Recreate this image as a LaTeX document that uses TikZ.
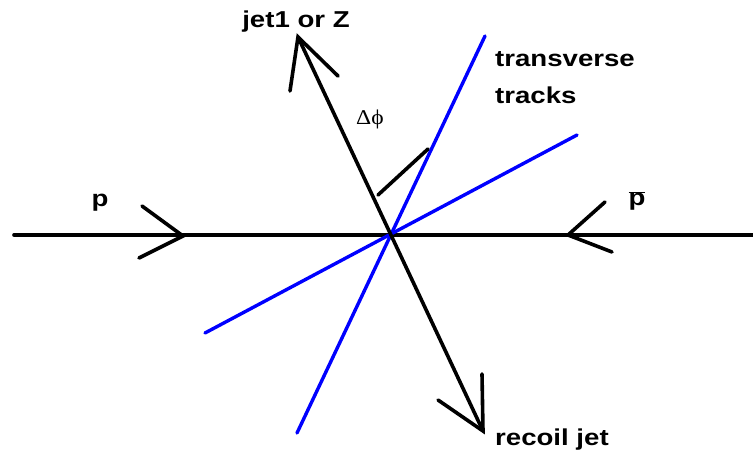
\documentclass[tikz,border=0pt]{standalone}
\usepackage{fontspec}
\setmainfont{Liberation Sans}
\newfontfamily\serifont{Liberation Serif}
\begin{document}
\begin{tikzpicture}[x=1pt,y=-1pt,
  blk/.style={line width=3.6pt,black,line cap=round},
  blu/.style={line width=3.4pt,color={rgb,255:red,0;green,0;blue,255},line cap=round},
  lbl/.style={font=\fontsize{23}{26}\selectfont\bfseries,inner sep=0pt}]
\useasboundingbox (0,0) rectangle (753,462);
% key points
\coordinate (O) at (390,235);
\coordinate (L) at (14,235);
\coordinate (R) at (753,235);
\coordinate (jt) at (298,37);
\coordinate (rt) at (483,431);
\coordinate (b1a) at (485,36);
\coordinate (b1b) at (297,433);
\coordinate (b2a) at (577,135);
\coordinate (b2b) at (205,333);
% beam line
\draw[blk] (L) -- (R);
% p arrow
\coordinate (pt) at (183,236);
\coordinate (pu) at (142,206);
\coordinate (pd) at (139,258);
\draw[blk] (pu) -- (pt) -- (pd);
% pbar arrow
\coordinate (qt) at (568,235);
\coordinate (qu) at (605,202);
\coordinate (qd) at (612,252);
\draw[blk] (qu) -- (qt) -- (qd);
% blue tracks
\draw[blu] (b1a) -- (b1b);
\draw[blu] (b2a) -- (b2b);
% jet axis
\draw[blk] (jt) -- (rt);
\coordinate (jl) at (290,91);
\coordinate (jr) at (338,76);
\draw[blk] (jl) -- (jt) -- (jr);
\coordinate (rv) at (482,374);
\coordinate (rl) at (438,400);
\draw[blk] (rv) -- (rt) -- (rl);
% delta phi marker
\coordinate (da) at (378,195);
\coordinate (db) at (428,149);
\draw[blk] (da) -- (db);
% labels
\node[lbl] (jetlbl) at (296,22) {\scalebox{1.2}[1]{jet1 or Z}};
\node[lbl,anchor=west] (tr1) at (495,59) {\scalebox{1.2}[1]{transverse}};
\node[lbl,anchor=west] (tr2) at (495,95) {\scalebox{1.2}[1]{tracks}};
\node[lbl] (plbl) at (100,203) {\scalebox{1.2}[1]{p}};
\node[lbl] (pblbl) at (637,201) {\scalebox{1.2}[1]{$\overline{\mbox{\bfseries p}}$}};
\node[lbl,anchor=west] (rlbl) at (495,440) {\scalebox{1.2}[1]{recoil jet}};
\node[inner sep=0pt,anchor=base west,font=\fontsize{21}{24}\selectfont\serifont] (dphi) at (356,125) {\scalebox{1.12}[1]{Δϕ}};
\end{tikzpicture}
\end{document}
